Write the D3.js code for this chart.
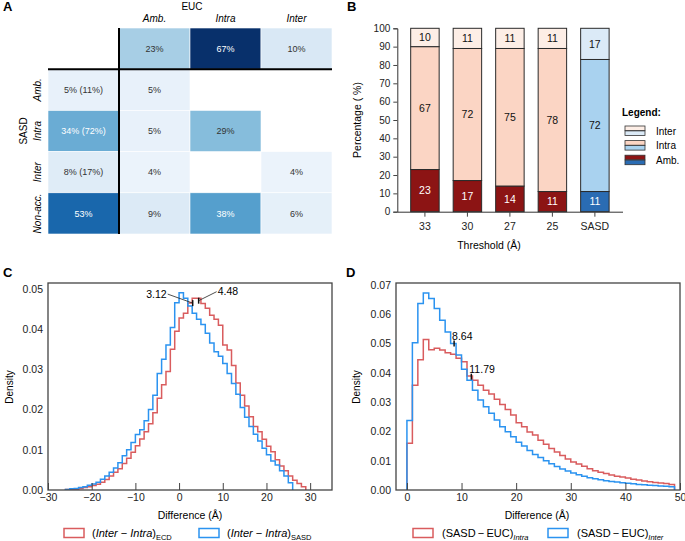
<!DOCTYPE html>
<html>
<head>
<meta charset="utf-8">
<script src="https://cdn.jsdelivr.net/npm/d3@7"></script>
<style>
body { margin: 0; background: #fff; }
svg { font-family: "Liberation Sans", Arial, sans-serif; }
.tick text { font-size: 10px; fill: #222; }
.tick line { stroke: #444; }
</style>
</head>
<body>
<div id="fig"></div>
<script>
// A: EUC vs SASD contingency (percent)
var eucCols = ["Amb.", "Intra", "Inter"],
	sasdRows = ["Amb.", "Intra", "Inter", "Non-acc."],
	eucTotals = [23, 67, 10],
	sasdTotals = [5, 34, 8, 53],
	sasdAccessible = [11, 72, 17, null],
	crossValues = [[5, null, null], [5, 29, null], [4, null, 4], [9, 38, 6]];

// B: stacked percentages per threshold
var thresholds = ["33", "30", "27", "25", "SASD"],
	ambPct = [23, 17, 14, 11, 11],
	intraPct = [67, 72, 75, 78, 72],
	interPct = [10, 11, 11, 11, 17],
	pctTicks = [0, 10, 20, 30, 40, 50, 60, 70, 80, 90, 100];

// C: (Inter - Intra) histograms, 1 A bins starting at binStartC
var binStartC = -26,
	ecdDensity = [0.0001, 0.0001, 0.0002, 0.0004, 0.0006, 0.0008, 0.0011, 0.0014, 0.0019, 0.0026,
		0.0035, 0.0044, 0.0053, 0.0066, 0.0079, 0.0094, 0.0110, 0.0127, 0.0145, 0.0165,
		0.0192, 0.0228, 0.0262, 0.0295, 0.0350, 0.0395, 0.0428, 0.0440, 0.0465, 0.0477,
		0.0477, 0.0464, 0.0452, 0.0435, 0.0425, 0.0410, 0.0361, 0.0348, 0.0310, 0.0266,
		0.0236, 0.0209, 0.0182, 0.0158, 0.0145, 0.0126, 0.0109, 0.0095, 0.0075, 0.0060,
		0.0048, 0.0035, 0.0024, 0.0016, 0.0008],
	sasdDensity = [0.0001, 0.0003, 0.0004, 0.0006, 0.0008, 0.0012, 0.0015, 0.0019, 0.0027, 0.0035,
		0.0044, 0.0055, 0.0068, 0.0085, 0.0100, 0.0118, 0.0138, 0.0150, 0.0172, 0.0200,
		0.0236, 0.0290, 0.0325, 0.0361, 0.0404, 0.0466, 0.0491, 0.0477, 0.0458, 0.0440,
		0.0425, 0.0412, 0.0390, 0.0366, 0.0344, 0.0333, 0.0315, 0.0290, 0.0265, 0.0238,
		0.0205, 0.0181, 0.0158, 0.0139, 0.0122, 0.0104, 0.0088, 0.0072, 0.0062, 0.0048,
		0.0035, 0.0018],
	diffTicksC = [-30, -20, -10, 0, 10, 20, 30],
	densTicksC = [0, 0.01, 0.02, 0.03, 0.04, 0.05],
	medianLabelsC = ["3.12", "4.48"],
	medianXC = [3.12, 4.48],
	medianYC = [0.0465, 0.0471];

// D: (SASD - EUC) histograms, 1 A bins from 0
var binStartD = 0,
	intraDensity = [0.0160, 0.0358, 0.0445, 0.0514, 0.0479, 0.0484, 0.0478, 0.0469, 0.0464, 0.0450,
		0.0438, 0.0389, 0.0375, 0.0358, 0.0341, 0.0328, 0.0310, 0.0292, 0.0275, 0.0256,
		0.0230, 0.0216, 0.0198, 0.0188, 0.0170, 0.0156, 0.0142, 0.0130, 0.0118, 0.0106,
		0.0096, 0.0089, 0.0081, 0.0073, 0.0066, 0.0061, 0.0056, 0.0051, 0.0047, 0.0044,
		0.0041, 0.0037, 0.0034, 0.0031, 0.0028, 0.0026, 0.0024, 0.0022, 0.0019],
	interDensity = [0.0237, 0.0503, 0.0637, 0.0673, 0.0654, 0.0620, 0.0580, 0.0540, 0.0500, 0.0461,
		0.0412, 0.0375, 0.0341, 0.0307, 0.0284, 0.0262, 0.0239, 0.0216, 0.0199, 0.0182,
		0.0163, 0.0150, 0.0135, 0.0121, 0.0111, 0.0100, 0.0090, 0.0080, 0.0072, 0.0065,
		0.0058, 0.0052, 0.0047, 0.0042, 0.0038, 0.0035, 0.0032, 0.0029, 0.0027, 0.0025,
		0.0023, 0.0021, 0.0019, 0.0018, 0.0016, 0.0015, 0.0014, 0.0013, 0.0011],
	diffTicksD = [0, 10, 20, 30, 40, 50],
	densTicksD = [0, 0.01, 0.02, 0.03, 0.04, 0.05, 0.06, 0.07],
	medianLabelsD = ["8.64", "11.79"],
	medianXD = [8.64, 11.79],
	medianYD = [0.0500, 0.0387];

var redLine = "#d95c5e",
	blueLine = "#2b93f0";

var svg = d3.select("#fig").append("svg")
	.attr("width", 685)
	.attr("height", 541);

[["A", 3, 11], ["B", 347, 11], ["C", 3, 277], ["D", 346, 277]].forEach(function(p) {
	svg.append("text").attr("x", p[1]).attr("y", p[2])
		.style("font-size", "13px").style("font-weight", "bold").text(p[0]);
});

drawHeatmap();
drawBars();
drawHist({
	left: 48, right: 332, top: 283, bottom: 490,
	xDomain: [-30, 35], yMax: 0.0515,
	xTicks: diffTicksC, yTicks: densTicksC,
	series: [[binStartC, ecdDensity, redLine], [binStartC, sasdDensity, blueLine]]
}, function(g, x, y) {
	// medians with leader lines
	var dx = [-25, 18];
	medianXC.forEach(function(m, i) {
		var mx = x(m), my = y(medianYC[i]);
		g.append("line").attr("x1", mx).attr("x2", mx + dx[i])
			.attr("y1", my).attr("y2", my - 9)
			.style("stroke", "#222").style("stroke-width", 0.8);
		g.append("line").attr("x1", mx).attr("x2", mx)
			.attr("y1", my - 3).attr("y2", my + 3)
			.style("stroke", "#111").style("stroke-width", 1.5);
		g.append("text").attr("x", mx + dx[i] + (i ? 1 : -1)).attr("y", my - 5.5)
			.attr("text-anchor", i ? "start" : "end")
			.style("font-size", "10.5px").text(medianLabelsC[i]);
	});
	legend(g, 64, 92, [
		[redLine, [["(", 0], ["Inter", 1], [" \u2212 ", 0], ["Intra", 1], [")", 0]], "ECD", false],
		[blueLine, [["(", 0], ["Inter", 1], [" \u2212 ", 0], ["Intra", 1], [")", 0]], "SASD", false]
	], [0, 135]);
}, 13, 190);

drawHist({
	left: 396, right: 680, top: 283, bottom: 490,
	xDomain: [-2, 50], yMax: 0.0707,
	xTicks: diffTicksD, yTicks: densTicksD,
	series: [[binStartD, intraDensity, redLine], [binStartD, interDensity, blueLine]]
}, function(g, x, y) {
	var pos = [[-2, -4], [-2, -4]];
	[1, 0].forEach(function(i) {
		var mx = x(medianXD[i]), my = y(medianYD[i]);
		g.append("line").attr("x1", mx).attr("x2", mx)
			.attr("y1", my - 3).attr("y2", my + 3)
			.style("stroke", "#111").style("stroke-width", 1.5);
		g.append("text").attr("x", mx + pos[i][0]).attr("y", my + pos[i][1])
			.style("font-size", "10.5px").text(medianLabelsD[i]);
	});
	legend(g, 413, 442, [
		[redLine, [["(SASD\u2009\u2212\u2009EUC)", 0]], "Intra", true],
		[blueLine, [["(SASD\u2009\u2212\u2009EUC)", 0]], "Inter", true]
	], [0, 135]);
}, 360, 537);

function drawHeatmap() {
	var hx = d3.scaleBand().domain(["total"].concat(eucCols)).range([48, 332]),
		hy = d3.scaleBand().domain(["total"].concat(sasdRows)).range([28, 234]),
		color = d3.scaleSequential(d3.interpolateBlues).domain([0, 67]);

	var cells = [];
	eucCols.forEach(function(c, j) {
		cells.push({col: c, row: "total", v: eucTotals[j], label: eucTotals[j] + "%"});
	});
	sasdRows.forEach(function(r, i) {
		var lab = sasdTotals[i] + "%";
		if (sasdAccessible[i] != null) lab += " (" + sasdAccessible[i] + "%)";
		cells.push({col: "total", row: r, v: sasdTotals[i], label: lab});
		eucCols.forEach(function(c, j) {
			if (crossValues[i][j] != null)
				cells.push({col: c, row: r, v: crossValues[i][j], label: crossValues[i][j] + "%"});
		});
	});

	var g = svg.append("g");
	var cell = g.selectAll(".cell")
		.data(cells)
		.enter().append("g")
		.attr("class", "cell")
		.attr("transform", function(d) { return "translate(" + hx(d.col) + "," + hy(d.row) + ")"; });
	cell.append("rect")
		.attr("width", hx.bandwidth())
		.attr("height", hy.bandwidth())
		.style("fill", function(d) { return color(d.v); })
		.style("stroke", "#fff").style("stroke-width", 0.6);
	cell.append("text")
		.attr("x", hx.bandwidth() / 2)
		.attr("y", hy.bandwidth() / 2)
		.attr("dy", "0.35em")
		.attr("text-anchor", "middle")
		.style("font-size", "9px")
		.style("fill", function(d) { return d.v > 30 ? "#fff" : "#333"; })
		.text(function(d) { return d.label; });

	// separators
	g.append("line").attr("x1", hx("Amb.")).attr("x2", hx("Amb."))
		.attr("y1", hy.range()[0]).attr("y2", hy.range()[1])
		.style("stroke", "#000").style("stroke-width", 2);
	g.append("line").attr("x1", hx.range()[0]).attr("x2", hx.range()[1])
		.attr("y1", hy("Amb.")).attr("y2", hy("Amb."))
		.style("stroke", "#000").style("stroke-width", 2);

	g.selectAll(".colhead").data(eucCols).enter().append("text")
		.attr("x", function(d) { return hx(d) + hx.bandwidth() / 2; })
		.attr("y", 22)
		.attr("text-anchor", "middle")
		.style("font-size", "10px").style("font-style", "italic")
		.text(function(d) { return d; });
	g.append("text").attr("x", 192).attr("y", 10).attr("text-anchor", "middle")
		.style("font-size", "10px").text("EUC");

	g.selectAll(".rowhead").data(sasdRows).enter().append("text")
		.attr("transform", function(d) { return "translate(41," + (hy(d) + hy.bandwidth() / 2) + ") rotate(-90)"; })
		.attr("text-anchor", "middle")
		.style("font-size", "10px").style("font-style", "italic")
		.text(function(d) { return d; });
	g.append("text").attr("transform", "translate(27,131) rotate(-90)")
		.attr("text-anchor", "middle")
		.style("font-size", "10px").text("SASD");
}

function drawBars() {
	var table = thresholds.map(function(t, i) {
		return {threshold: t, Amb: ambPct[i], Intra: intraPct[i], Inter: interPct[i]};
	});
	var keys = ["Amb", "Intra", "Inter"];
	var redSet = {Amb: "#8c1414", Intra: "#fbd5c4", Inter: "#fdeee6"},
		blueSet = {Amb: "#2a6cb3", Intra: "#a9d2ef", Inter: "#dbeaf7"};
	var fill = function(key, t) { return t == "SASD" ? blueSet[key] : redSet[key]; };

	var x = d3.scaleBand().domain(thresholds).range([397.3, 622.5])
			.paddingInner(0.33).paddingOuter(0.315),
		y = d3.scaleLinear().domain([0, 100]).range([211.7, 28.3]);

	var g = svg.append("g");
	var layers = g.selectAll(".layer")
		.data(d3.stack().keys(keys)(table))
		.enter().append("g")
		.attr("class", "layer");
	layers.selectAll("rect")
		.data(function(d) { return d.map(function(s) { return {key: d.key, s: s}; }); })
		.enter().append("rect")
		.attr("x", function(d) { return x(d.s.data.threshold); })
		.attr("y", function(d) { return y(d.s[1]); })
		.attr("width", x.bandwidth())
		.attr("height", function(d) { return y(d.s[0]) - y(d.s[1]); })
		.style("fill", function(d) { return fill(d.key, d.s.data.threshold); })
		.style("stroke", "#2a2a2a").style("stroke-width", 1);
	layers.selectAll("text")
		.data(function(d) { return d.map(function(s) { return {key: d.key, s: s}; }); })
		.enter().append("text")
		.attr("x", function(d) { return x(d.s.data.threshold) + x.bandwidth() / 2; })
		.attr("y", function(d) { return y((d.s[0] + d.s[1]) / 2); })
		.attr("dy", "0.35em")
		.attr("text-anchor", "middle")
		.style("font-size", "10.5px")
		.style("fill", function(d) { return d.key == "Amb" ? "#fff" : "#111"; })
		.text(function(d) { return d.s[1] - d.s[0]; });

	g.append("g").attr("transform", "translate(397.3,0)")
		.call(d3.axisLeft(y).tickValues(pctTicks).tickSize(4).tickPadding(3))
		.call(function(a) { a.select(".domain").style("stroke", "#333"); });
	g.append("g").attr("transform", "translate(0,211.7)")
		.call(d3.axisBottom(x).tickSize(5).tickSizeOuter(0).tickPadding(6))
		.call(function(a) {
			a.select(".domain").style("stroke", "#333");
			a.selectAll("text").style("font-size", "10.5px");
		});

	g.append("text").attr("x", 489).attr("y", 249).attr("text-anchor", "middle")
		.style("font-size", "10.5px").text("Threshold (\u00c5)");
	g.append("text").attr("transform", "translate(361,120) rotate(-90)")
		.attr("text-anchor", "middle")
		.style("font-size", "10.5px").text("Percentage ( %)");

	// legend: threshold colour on top, SASD colour below
	g.append("text").attr("x", 622).attr("y", 116)
		.style("font-size", "10px").style("font-weight", "bold").text("Legend:");
	var items = g.selectAll(".leg")
		.data(["Inter", "Intra", "Amb"])
		.enter().append("g")
		.attr("class", "leg")
		.attr("transform", function(d, i) { return "translate(625," + (126 + i * 14.6) + ")"; });
	items.append("rect").attr("width", 20).attr("height", 4.6)
		.style("fill", function(d) { return redSet[d]; })
		.style("stroke", "#333").style("stroke-width", 0.8);
	items.append("rect").attr("y", 4.9).attr("width", 20).attr("height", 4.6)
		.style("fill", function(d) { return blueSet[d]; })
		.style("stroke", "#333").style("stroke-width", 0.8);
	items.append("text").attr("x", 31).attr("y", 5).attr("dy", "0.35em")
		.style("font-size", "10px")
		.text(function(d) { return d == "Amb" ? "Amb." : d; });
}

function stepPoints(start, values) {
	var pts = [[start, 0]];
	values.forEach(function(v, i) {
		pts.push([start + i, v]);
		pts.push([start + i + 1, v]);
	});
	pts.push([start + values.length, 0]);
	return pts;
}

function drawHist(o, extra, ylabX, xlabX) {
	var x = d3.scaleLinear().domain(o.xDomain).range([o.left, o.right]),
		y = d3.scaleLinear().domain([0, o.yMax]).range([o.bottom, o.top]);
	var g = svg.append("g");

	g.append("defs").append("clipPath").attr("id", "clip" + o.left)
		.append("rect").attr("x", o.left).attr("y", o.top)
		.attr("width", o.right - o.left).attr("height", o.bottom - o.top);

	var line = d3.line()
		.x(function(d) { return x(d[0]); })
		.y(function(d) { return y(d[1]); });
	g.selectAll(".hist")
		.data(o.series)
		.enter().append("path")
		.attr("class", "hist")
		.attr("clip-path", "url(#clip" + o.left + ")")
		.attr("d", function(d) { return line(stepPoints(d[0], d[1])); })
		.style("fill", "none")
		.style("stroke", function(d) { return d[2]; })
		.style("stroke-width", 1.5);

	g.append("g").attr("transform", "translate(0," + o.bottom + ")")
		.call(d3.axisBottom(x).tickValues(o.xTicks).tickSizeInner(-7).tickSizeOuter(0).tickPadding(4))
		.call(function(a) { a.select(".domain").remove(); a.selectAll("text").style("font-size", "10.5px"); });
	g.append("g").attr("transform", "translate(" + o.left + ",0)")
		.call(d3.axisLeft(y).tickValues(o.yTicks).tickFormat(d3.format(".2f")).tickSize(0).tickPadding(5))
		.call(function(a) { a.select(".domain").remove(); a.selectAll("text").style("font-size", "10.5px"); });

	g.append("rect").attr("x", o.left).attr("y", o.top)
		.attr("width", o.right - o.left).attr("height", o.bottom - o.top)
		.style("fill", "none").style("stroke", "#444").style("stroke-width", 1.3);

	g.append("text").attr("transform", "translate(" + ylabX + ",387) rotate(-90)")
		.attr("text-anchor", "middle").style("font-size", "10px").text("Density");
	g.append("text").attr("x", xlabX).attr("y", 519).attr("text-anchor", "middle")
		.style("font-size", "10.5px").text("Difference (\u00c5)");

	extra(g, x, y);
}

function legend(g, rectX, textX, entries, offsets) {
	entries.forEach(function(e, i) {
		var ox = offsets[i];
		g.append("rect").attr("x", rectX + ox).attr("y", 528.5)
			.attr("width", 20).attr("height", 9)
			.style("fill", "none").style("stroke", e[0]).style("stroke-width", 1.5);
		var t = g.append("text").attr("x", textX + ox).attr("y", 537)
			.style("font-size", "11px");
		e[1].forEach(function(part) {
			t.append("tspan").style("font-style", part[1] ? "italic" : "normal").text(part[0]);
		});
		t.append("tspan").attr("dy", 3)
			.style("font-size", "7.5px")
			.style("font-style", e[3] ? "italic" : "normal")
			.text(e[2]);
	});
}
</script>
</body>
</html>
